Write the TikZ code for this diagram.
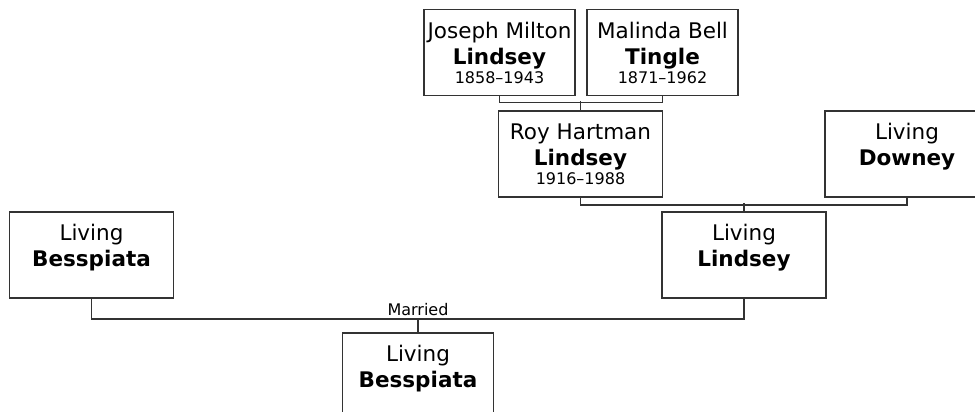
\documentclass[tikz,border=0pt]{standalone}
\usepackage{fontspec}
\setmainfont{DejaVu Sans}
\usepackage{tikz}
\usetikzlibrary{positioning, calc}

\definecolor{linegray}{HTML}{333333}
\newcommand{\namesize}{\fontsize{21.5}{26}\selectfont}
\newcommand{\datesize}{\fontsize{16}{19}\selectfont}
% first name, surname, years
\newcommand{\person}[3]{#1\\\textbf{#2}\\[-7pt]{\datesize #3}}

\begin{document}
\begin{tikzpicture}[
    x=1pt, y=-1pt,
    font=\namesize,
    box/.style={draw=linegray, line width=1.6pt, align=center, inner sep=0pt, minimum height=86pt},
    narrow/.style={box, minimum width=151pt},
    wide/.style={box, minimum width=164pt},
    link/.style={draw=linegray, line width=1.6pt},
]
\clip (0,0) rectangle (975,412);

% grandparents
\node[narrow] (joseph)  at (499.5,52.5) {\person{Joseph Milton}{Lindsey}{1858--1943}};
\node[narrow] (malinda) at (662.5,52.5) {\person{Malinda Bell}{Tingle}{1871--1962}};
% parents of the father
\node[wide] (roy)    at (580.5,154) {\person{Roy Hartman}{Lindsey}{1916--1988}};
\node[wide] (downey) at (907,154)   {\person{Living}{Downey}{\phantom{0}}};
% couple
\node[wide] (bessL)   at (91.5,255) {\person{Living}{Besspiata}{\phantom{0}}};
\node[wide] (lindsey) at (744,255)  {\person{Living}{Lindsey}{\phantom{0}}};
% child
\node[narrow] (child) at (418,376) {\person{Living}{Besspiata}{\phantom{0}}};

% family lines
\draw[link] (joseph.south) -- ++(0,6) -| (malinda.south);
\draw[link] (roy.north) -- ++(0,-9);
\draw[link] (roy.south) -- ++(0,7) -| (downey.south);
\draw[link] (lindsey.north) -- ++(0,-8);
\draw[link] (bessL.south) -- ++(0,20) -| (lindsey.south);
\draw[link] (child.north) -- ++(0,-14) node[above, inner sep=2pt, font=\datesize] (married) {Married};
\end{tikzpicture}
\end{document}
